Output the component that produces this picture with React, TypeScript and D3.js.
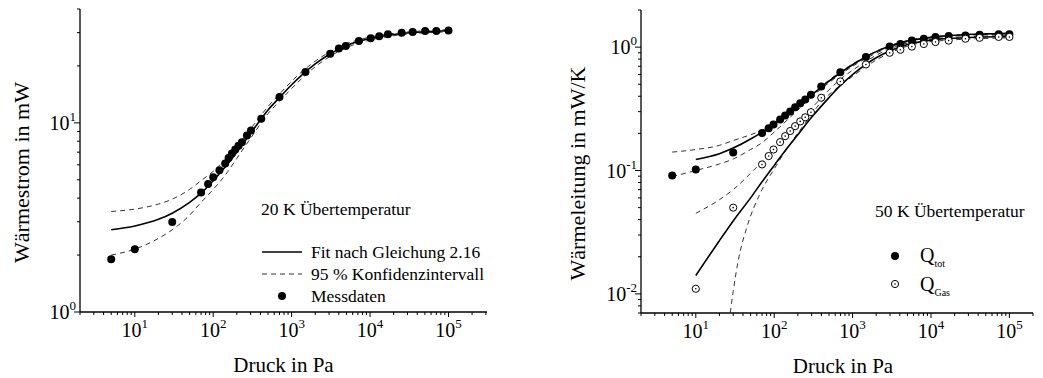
import React from "react";
import * as d3 from "d3";

// ---- Left panel: heat flow at 20 K overtemperature ----
const leftP = [5, 10, 30, 70, 86, 100, 120, 142, 157, 173, 191, 210, 232, 269, 303, 410, 700, 1500, 3100, 4000, 4900, 7200, 10200, 13100, 16900, 25300, 34900, 50400, 70000, 100000];
const leftQ = [1.9, 2.15, 2.99, 4.29, 4.75, 5.15, 5.61, 6.09, 6.52, 6.88, 7.22, 7.58, 7.89, 8.57, 9.1, 10.5, 13.7, 18.6, 23.2, 24.7, 25.5, 27.1, 28.0, 28.7, 29.4, 30.0, 30.2, 30.6, 30.6, 30.8];

const leftGridP = [5, 10, 20, 30, 50, 70, 100, 150, 200, 300, 500, 700, 1000, 2000, 3000, 5000, 10000, 20000, 50000, 100000];
const leftFit = [2.72, 2.85, 3.09, 3.33, 3.8, 4.25, 4.95, 6.0, 7.0, 8.8, 11.7, 13.6, 15.9, 20.5, 23.0, 25.6, 27.9, 29.3, 30.3, 30.7];
const leftUpper = [3.4, 3.5, 3.72, 3.95, 4.45, 4.95, 5.55, 6.55, 7.5, 9.3, 12.2, 14.2, 16.6, 21.2, 23.6, 26.2, 28.4, 29.7, 30.7, 31.1];
const leftLower = [2.0, 2.15, 2.45, 2.72, 3.25, 3.8, 4.45, 5.45, 6.5, 8.3, 11.2, 13.0, 15.2, 19.8, 22.3, 25.0, 27.4, 28.9, 29.9, 30.3];

const leftLegend = ["Fit nach Gleichung 2.16", "95 % Konfidenzintervall", "Messdaten"];

// ---- Right panel: thermal conductance at 50 K overtemperature ----
const totP = [5, 10, 30, 70, 85, 98, 119, 138, 160, 185, 215, 249, 294, 398, 697, 1480, 2970, 4070, 5700, 8100, 11400, 16800, 27500, 41700, 73000, 100000];
const totQ = [0.091, 0.102, 0.14, 0.201, 0.22, 0.236, 0.259, 0.279, 0.301, 0.326, 0.351, 0.377, 0.411, 0.48, 0.627, 0.83, 1.01, 1.06, 1.13, 1.17, 1.21, 1.23, 1.24, 1.26, 1.27, 1.27];
const gasP = [10, 30, 70, 85, 98, 119, 138, 160, 185, 215, 249, 294, 398, 697, 1480, 2970, 4070, 5700, 8100, 11400, 16800, 27500, 41700, 73000, 100000];
const gasQ = [0.011, 0.05, 0.112, 0.131, 0.148, 0.17, 0.19, 0.209, 0.229, 0.25, 0.27, 0.297, 0.389, 0.527, 0.724, 0.9, 0.953, 1.01, 1.06, 1.1, 1.13, 1.17, 1.19, 1.21, 1.21];

const fitGridP = [10, 20, 30, 50, 70, 100, 150, 200, 300, 500, 700, 1000, 1500, 2000, 3000, 5000, 10000, 20000, 50000, 100000];
const totFit = [0.123, 0.137, 0.152, 0.18, 0.205, 0.238, 0.29, 0.335, 0.41, 0.53, 0.62, 0.72, 0.84, 0.92, 1.02, 1.12, 1.2, 1.25, 1.28, 1.29];
const gasFit = [0.0141, 0.027, 0.039, 0.06, 0.081, 0.11, 0.155, 0.195, 0.27, 0.39, 0.49, 0.6, 0.73, 0.82, 0.93, 1.05, 1.14, 1.18, 1.21, 1.22];
const gasUpper = [0.045, 0.058, 0.07, 0.095, 0.118, 0.15, 0.2, 0.245, 0.32, 0.45, 0.55, 0.65, 0.77, 0.86, 0.97, 1.08, 1.16, 1.2, 1.23, 1.24];

const totBandP = [5, 10, 20, 30, 50, 70, 100, 150, 200, 300, 500, 1000, 3000, 10000, 100000];
const totUpper = [0.141, 0.148, 0.16, 0.175, 0.195, 0.212, 0.245, 0.295, 0.34, 0.415, 0.54, 0.73, 1.03, 1.21, 1.3];
const totLower = [0.0894, 0.1, 0.113, 0.124, 0.148, 0.168, 0.205, 0.26, 0.31, 0.395, 0.515, 0.7, 1.0, 1.19, 1.28];

const gasLowerP = [27.5, 30, 35, 45, 66, 100, 150, 240, 400, 700, 1000, 1500, 3000, 10000, 100000];
const gasLower = [0.007, 0.0105, 0.019, 0.035, 0.065, 0.103, 0.155, 0.235, 0.36, 0.49, 0.58, 0.7, 0.9, 1.11, 1.19];

const FONT = "Liberation Serif";

type Scale = d3.ScaleLogarithmic<number, number>;

function isPow10(v: number) {
  const l = Math.log10(v);
  return Math.abs(l - Math.round(l)) < 1e-9;
}

function Pow10({ x, y, exp, anchor }: { x: number; y: number; exp: number; anchor: "middle" | "end" }) {
  return (
    <text x={x} y={y} textAnchor={anchor} fontFamily={FONT} fontSize={20} fill="#000">
      10<tspan dy={-9} fontSize={13}>{exp}</tspan>
    </text>
  );
}

function Axes({ x, y, xLabel, yLabel, yLabelX, xLabelShift }: { x: Scale; y: Scale; xLabel: string; yLabel: string; yLabelX: number; xLabelShift: number }) {
  const [x0, x1] = x.range();
  const [y0, y1] = y.range();
  const xt = x.ticks(10);
  const yt = y.ticks(10);
  return (
    <g>
      <line x1={x0} x2={x1} y1={y0} y2={y0} stroke="#000" strokeWidth={1.3} />
      <line x1={x0} x2={x0} y1={y0} y2={y1} stroke="#000" strokeWidth={1.3} />
      {xt.map((t, i) => (
        <line key={"xt" + i} x1={x(t)} x2={x(t)} y1={y0} y2={y0 + (isPow10(t) ? 5 : 3)} stroke="#000" strokeWidth={1} />
      ))}
      {yt.map((t, i) => (
        <line key={"yt" + i} x1={x0} x2={x0 - (isPow10(t) ? 6 : 3)} y1={y(t)} y2={y(t)} stroke="#000" strokeWidth={1} />
      ))}
      {xt.filter(isPow10).map((t, i) => (
        <Pow10 key={"xl" + i} x={x(t)} y={y0 + 25} exp={Math.round(Math.log10(t))} anchor="middle" />
      ))}
      {yt.filter(isPow10).map((t, i) => (
        <Pow10 key={"yl" + i} x={x0 - 4} y={y(t) + 7} exp={Math.round(Math.log10(t))} anchor="end" />
      ))}
      <text x={(x0 + x1) / 2 + xLabelShift} y={y0 + 60} textAnchor="middle" fontFamily={FONT} fontSize={21}>
        {xLabel}
      </text>
      <text transform={`translate(${yLabelX},${(y0 + y1) / 2 + 12}) rotate(-90)`} textAnchor="middle" fontFamily={FONT} fontSize={22}>
        {yLabel}
      </text>
    </g>
  );
}

function curve(x: Scale, y: Scale, ps: number[], vs: number[]) {
  const pts = ps.map((p, i) => [x(p), y(vs[i])] as [number, number]);
  return d3.line().curve(d3.curveMonotoneX)(pts) || "";
}

export default function App() {
  // Left panel scales
  const xL = d3.scaleLog().domain([2, 3.1e5]).range([80, 487]);
  const yL = d3.scaleLog().domain([1, 40]).range([312, 9]);
  // Right panel scales
  const xR = d3.scaleLog().domain([2, 2e5]).range([641, 1033]);
  const yR = d3.scaleLog().domain([0.007, 2]).range([313, 10]);

  const dash = "5 4";
  const legendFont = 17.5;
  return (
    <svg width={1043} height={378} style={{ position: "absolute", left: 0, top: 0, background: "#fff" }}>
      <defs>
        <clipPath id="clipR">
          <rect x={641} y={10} width={392} height={303} />
        </clipPath>
      </defs>

      {/* Left panel */}
      <Axes x={xL} y={yL} xLabel="Druck in Pa" yLabel="Wärmestrom in mW" yLabelX={29} xLabelShift={0} />
      <path d={curve(xL, yL, leftGridP, leftUpper)} fill="none" stroke="#333" strokeWidth={1} strokeDasharray={dash} />
      <path d={curve(xL, yL, leftGridP, leftLower)} fill="none" stroke="#333" strokeWidth={1} strokeDasharray={dash} />
      <path d={curve(xL, yL, leftGridP, leftFit)} fill="none" stroke="#000" strokeWidth={1.6} />
      {leftP.map((p, i) => (
        <circle key={"l" + i} cx={xL(p)} cy={yL(leftQ[i])} r={4} fill="#000" />
      ))}
      <text x={261} y={215} fontFamily={FONT} fontSize={legendFont}>20 K Übertemperatur</text>
      <line x1={262} x2={302} y1={252} y2={252} stroke="#000" strokeWidth={1.6} />
      <line x1={262} x2={302} y1={274} y2={274} stroke="#333" strokeWidth={1} strokeDasharray={dash} />
      <circle cx={282} cy={296} r={4} fill="#000" />
      {leftLegend.map((t, i) => (
        <text key={t} x={311} y={258 + i * 22} fontFamily={FONT} fontSize={legendFont}>{t}</text>
      ))}

      {/* Right panel */}
      <Axes x={xR} y={yR} xLabel="Druck in Pa" yLabel="Wärmeleitung in mW/K" yLabelX={585} xLabelShift={6} />
      <g clipPath="url(#clipR)">
        <path d={curve(xR, yR, totBandP, totUpper)} fill="none" stroke="#333" strokeWidth={1} strokeDasharray={dash} />
        <path d={curve(xR, yR, totBandP, totLower)} fill="none" stroke="#333" strokeWidth={1} strokeDasharray={dash} />
        <path d={curve(xR, yR, fitGridP, gasUpper)} fill="none" stroke="#333" strokeWidth={1} strokeDasharray={dash} />
        <path d={curve(xR, yR, gasLowerP, gasLower)} fill="none" stroke="#333" strokeWidth={1} strokeDasharray={dash} />
        <path d={curve(xR, yR, fitGridP, totFit)} fill="none" stroke="#000" strokeWidth={1.6} />
        <path d={curve(xR, yR, fitGridP, gasFit)} fill="none" stroke="#000" strokeWidth={1.6} />
      </g>
      {totP.map((p, i) => (
        <circle key={"t" + i} cx={xR(p)} cy={yR(totQ[i])} r={4} fill="#000" />
      ))}
      {gasP.map((p, i) => (
        <g key={"g" + i}>
          <circle cx={xR(p)} cy={yR(gasQ[i])} r={3.6} fill="#fff" stroke="#000" strokeWidth={1} />
          <circle cx={xR(p)} cy={yR(gasQ[i])} r={0.8} fill="#000" />
        </g>
      ))}
      <text x={875} y={217} fontFamily={FONT} fontSize={legendFont}>50 K Übertemperatur</text>
      <circle cx={895} cy={256} r={4} fill="#000" />
      <circle cx={895} cy={284} r={3.6} fill="#fff" stroke="#000" strokeWidth={1} />
      <circle cx={895} cy={284} r={0.8} fill="#000" />
      <text x={920} y={262} fontFamily={FONT} fontSize={20}>
        Q<tspan dy={5} fontSize={10}>tot</tspan>
      </text>
      <text x={920} y={291} fontFamily={FONT} fontSize={20}>
        Q<tspan dy={5} fontSize={10}>Gas</tspan>
      </text>
    </svg>
  );
}
